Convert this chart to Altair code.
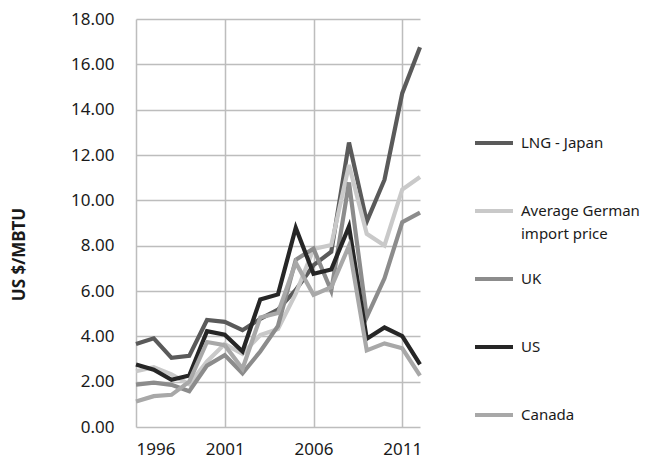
import altair as alt
import pandas as pd

years = list(range(1996, 2013))
lng_japan = [3.66, 3.91, 3.05, 3.14, 4.72, 4.64, 4.27, 4.77, 5.18, 6.05, 7.14, 7.73, 12.55, 9.06, 10.91, 14.73, 16.75]
german = [2.46, 2.64, 2.32, 1.88, 2.89, 3.66, 3.23, 4.06, 4.32, 5.88, 7.85, 8.03, 11.56, 8.52, 8.01, 10.48, 11.03]
uk = [1.87, 1.96, 1.86, 1.58, 2.71, 3.17, 2.37, 3.33, 4.46, 7.38, 7.87, 6.01, 10.79, 4.85, 6.56, 9.04, 9.46]
us = [2.76, 2.53, 2.08, 2.27, 4.23, 4.07, 3.33, 5.63, 5.85, 8.79, 6.76, 6.95, 8.85, 3.89, 4.39, 4.01, 2.76]
canada = [1.12, 1.36, 1.42, 2.00, 3.75, 3.61, 2.57, 4.83, 5.03, 7.25, 5.83, 6.17, 7.99, 3.38, 3.69, 3.47, 2.27]

series_names = ["LNG - Japan", "Average German import price", "UK", "US", "Canada"]
series_values = [lng_japan, german, uk, us, canada]
series_colors = ["#5a5a5a", "#c9c9c9", "#8c8c8c", "#262626", "#a8a8a8"]
draw_order = [4, 2, 1, 0, 3]

y_ticks = [0, 2, 4, 6, 8, 10, 12, 14, 16, 18]
x_ticks = [1996, 2001, 2006, 2011]

rows = []
for i, (name, vals) in enumerate(zip(series_names, series_values)):
    for yr, v in zip(years, vals):
        rows.append({"year": yr, "price": v, "series": name, "order": draw_order[i]})
df = pd.DataFrame(rows)

FONT = "Noto Sans"

chart = alt.Chart(df).mark_line(strokeWidth=4.2).encode(
    x=alt.X("year:Q",
            scale=alt.Scale(domain=[1996, 2012], nice=False, zero=False),
            axis=alt.Axis(values=x_ticks, format="d", title=None, domain=False, ticks=False,
                          labelPadding=14, labelFontSize=17, labelFont=FONT, labelColor="#1a1a1a",
                          labelLineHeight=17,
                          gridColor="#bdbdbd", gridWidth=1.5)),
    y=alt.Y("price:Q",
            scale=alt.Scale(domain=[0, 18], nice=False),
            axis=alt.Axis(values=y_ticks, format=".2f", title="US $/MBTU", domain=False, ticks=False,
                          labelPadding=22, labelFontSize=17, labelFont=FONT, labelColor="#1a1a1a",
                          labelLineHeight=17,
                          gridColor="#bdbdbd", gridWidth=1.5,
                          titleFont=FONT, titleFontSize=17, titleFontWeight="bold", titleColor="#1a1a1a",
                          titleX=-117, titleY=235, titleAngle=270, titleAlign="center", titleBaseline="middle")),
    color=alt.Color("series:N",
                    scale=alt.Scale(domain=series_names, range=series_colors),
                    legend=alt.Legend(title=None, orient="none", legendX=337, legendY=103,
                                      columns=1, gridAlign="all",
                                      symbolType="stroke", symbolSize=1444, symbolStrokeWidth=4,
                                      labelFont=FONT, labelFontSize=15, labelColor="#1a1a1a",
                                      labelOffset=6, rowPadding=16, labelLimit=300,
                                      labelExpr="datum.label == 'Average German import price' ? ['Average German', 'import price'] : datum.label")),
    order=alt.Order("order:Q"),
).properties(
    width=284, height=408,
    padding={"left": 128, "top": 11, "right": 235, "bottom": 32},
    autosize=alt.AutoSizeParams(type="none"),
).configure(
    background="white",
    style={"guide-label": {"lineHeight": 23}},
).configure_view(stroke=None)

chart.save("out.html", embed_options={"renderer": "svg", "actions": False})
